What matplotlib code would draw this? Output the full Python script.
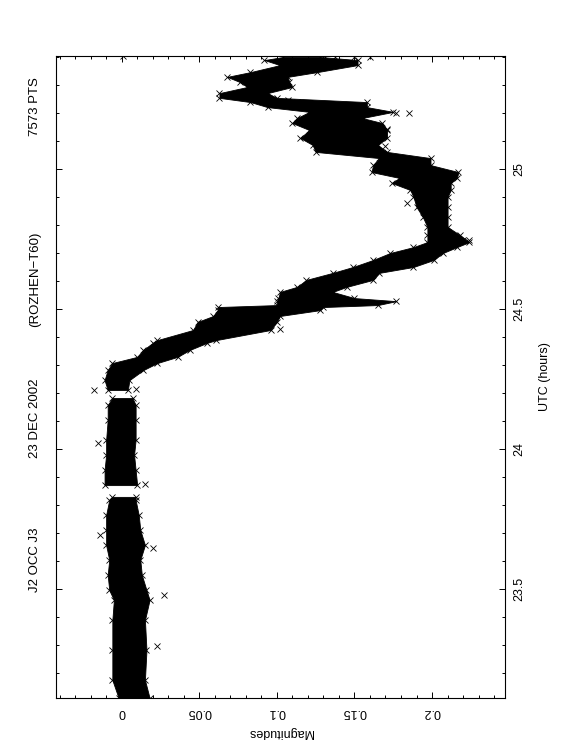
import matplotlib
matplotlib.use("Agg")
import matplotlib.pyplot as plt
from matplotlib.ticker import MultipleLocator, FuncFormatter

plt.rcParams['font.family'] = ['Liberation Sans', 'DejaVu Sans']

# ---- data (UTC hours, magnitude band edges) ----
seg_a_utc = [23.111, 23.175, 23.282, 23.389, 23.461, 23.496, 23.550, 23.604, 23.657, 23.711, 23.764, 23.818, 23.829]
seg_a_lo  = [-0.002, -0.006, -0.006, -0.006, -0.005, -0.008, -0.009, -0.008, -0.010, -0.010, -0.010, -0.008, -0.006]
seg_a_hi  = [0.018, 0.015, 0.016, 0.015, 0.018, 0.016, 0.013, 0.012, 0.015, 0.012, 0.011, 0.009, 0.009]

seg_b_utc = [23.871, 23.925, 23.979, 24.032, 24.104, 24.157, 24.182]
seg_b_lo  = [-0.011, -0.011, -0.010, -0.010, -0.009, -0.009, -0.006]
seg_b_hi  = [0.010, 0.009, 0.008, 0.009, 0.009, 0.009, 0.007]

seg_c_utc = [24.211, 24.246, 24.282, 24.307, 24.329, 24.354, 24.379, 24.389, 24.425, 24.454,
             24.475, 24.496, 24.507, 24.514, 24.528, 24.539, 24.561, 24.579, 24.604, 24.629,
             24.650, 24.675, 24.700, 24.721, 24.739, 24.764, 24.793, 24.829, 24.864, 24.900,
             24.925, 24.950, 24.968, 24.989, 25.014, 25.039, 25.061, 25.086, 25.111, 25.139,
             25.164, 25.182, 25.204, 25.221, 25.239, 25.254, 25.271, 25.293, 25.311, 25.329,
             25.346, 25.371, 25.389, 25.400]
seg_c_lo  = [-0.009, -0.011, -0.009, -0.006, 0.010, 0.014, 0.020, 0.023, 0.046, 0.049,
             0.059, 0.062, 0.062, 0.100, 0.100, 0.101, 0.102, 0.113, 0.119, 0.136,
             0.149, 0.162, 0.173, 0.188, 0.197, 0.197, 0.197, 0.194, 0.190, 0.188,
             0.186, 0.174, 0.179, 0.161, 0.162, 0.166, 0.125, 0.123, 0.115, 0.121,
             0.110, 0.113, 0.121, 0.094, 0.083, 0.063, 0.063, 0.081, 0.076, 0.068,
             0.083, 0.102, 0.092, 0.104]
seg_c_hi  = [0.004, 0.005, 0.014, 0.023, 0.036, 0.044, 0.055, 0.061, 0.096, 0.100,
             0.102, 0.128, 0.130, 0.165, 0.177, 0.150, 0.136, 0.145, 0.162, 0.166,
             0.188, 0.201, 0.207, 0.216, 0.224, 0.218, 0.210, 0.210, 0.210, 0.210,
             0.212, 0.212, 0.216, 0.217, 0.199, 0.199, 0.171, 0.165, 0.171, 0.171,
             0.168, 0.155, 0.175, 0.158, 0.158, 0.100, 0.094, 0.110, 0.108, 0.107,
             0.126, 0.152, 0.152, 0.128]

out_utc = [25.404, 25.400, 25.400, 25.400, 25.400, 25.246, 25.239, 25.200, 25.200, 25.143,
           25.082, 24.746, 24.746, 24.429, 24.211, 24.214, 24.021, 23.875, 23.693, 23.646,
           23.479, 23.296, 24.879]
out_mag = [0.001, 0.131, 0.1375, 0.150, 0.160, 0.107, 0.113, 0.177, 0.185, 0.171,
           0.170, 0.220, 0.224, 0.102, -0.018, 0.009, -0.015, 0.015, -0.014, 0.020,
           0.027, 0.023, 0.184]

title_parts = ["J2 OCC J3", "23 DEC 2002", "(ROZHEN\u2212T60)", "7573 PTS"]
title_y_px = [560, 418, 279, 107]

W, H = 562, 756
fig = plt.figure(figsize=(W / 100, H / 100), dpi=100)
ax = fig.add_axes([56 / W, 1 - 698 / H, 449 / W, (698 - 55.7) / H])

segments = [(seg_a_utc, seg_a_lo, seg_a_hi), (seg_b_utc, seg_b_lo, seg_b_hi), (seg_c_utc, seg_c_lo, seg_c_hi)]
for u, lo, hi in segments:
    ax.fill_betweenx(u, lo, hi, color='black', linewidth=0.6, edgecolor='black')
    ax.plot(lo, u, linestyle='none', marker='x', ms=4, mew=0.6, color='black')
    ax.plot(hi, u, linestyle='none', marker='x', ms=4, mew=0.6, color='black')
ax.plot(out_mag, out_utc, linestyle='none', marker='x', ms=4, mew=0.6, color='black')

ax.set_xlim(-0.0423, 0.2470)
ax.set_ylim(23.1107, 25.4046)

ax.xaxis.set_major_locator(MultipleLocator(0.05))
ax.xaxis.set_minor_locator(MultipleLocator(0.01))
ax.yaxis.set_major_locator(MultipleLocator(0.5))
ax.yaxis.set_minor_locator(MultipleLocator(0.1))
fmt = FuncFormatter(lambda v, p: ('%g' % round(v, 4)))
ax.xaxis.set_major_formatter(fmt)
ax.yaxis.set_major_formatter(fmt)

ax.tick_params(which='both', direction='in', top=True, bottom=True, left=True, right=True,
               labelleft=False, labelright=True, labeltop=False, labelbottom=True,
               width=0.7, colors='black', labelsize=9)
ax.tick_params(which='major', length=4)
ax.tick_params(which='minor', length=2.2)
ax.tick_params(axis='x', which='major', pad=6)
ax.tick_params(axis='y', which='major', pad=6)
for lab in ax.get_xticklabels():
    lab.set_rotation(180)
for lab in ax.get_yticklabels():
    lab.set_rotation(90)
    lab.set_va('center')
for s in ax.spines.values():
    s.set_linewidth(0.8)

cx = (56 + 505) / 2
fig.text(cx / W, 1 - 732 / H, "Magnitudes", rotation=180, ha='center', va='center', fontsize=9)
fig.text(545 / W, 1 - 377 / H, "UTC (hours)", rotation=90, ha='center', va='center', fontsize=9)
for t, yp in zip(title_parts, title_y_px):
    fig.text(35 / W, 1 - yp / H, t, rotation=90, ha='center', va='center', fontsize=9.5)

fig.savefig("out.png", dpi=100)
